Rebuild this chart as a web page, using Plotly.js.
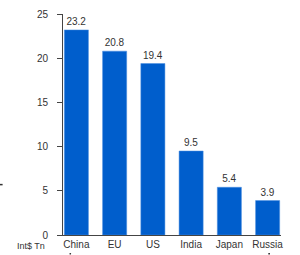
<!DOCTYPE html>
<html><head><meta charset="utf-8">
<script src="https://cdn.plot.ly/plotly-3.0.1.min.js"></script>
<style>html,body{margin:0;padding:0;background:#fff}#c{width:300px;height:255px}</style>
</head><body><div id="c"></div>
<script>
const categories = ["China", "EU", "US", "India", "Japan", "Russia"];
const values = [23.2, 20.8, 19.4, 9.5, 5.4, 3.9];
const valueLabels = ["23.2", "20.8", "19.4", "9.5", "5.4", "3.9"];
const yTicks = [0, 5, 10, 15, 20, 25];
const unitLabel = "Int$ Tn";

const font = "Liberation Sans Narrow, Liberation Sans, Arial, sans-serif";
const trace = {
  type: "bar", x: categories, y: values,
  text: valueLabels, textposition: "outside", cliponaxis: false,
  textfont: {family: font, size: 10, color: "#333"},
  marker: {color: "#005ecc", line: {color: "#4a8fe0", width: 0.5}},
  hoverinfo: "none"
};
const layout = {
  width: 300, height: 255,
  margin: {l: 63, r: 19, t: 14, b: 20},
  paper_bgcolor: "#fff", plot_bgcolor: "#fff",
  bargap: 0.37, showlegend: false,
  font: {family: font, size: 10, color: "#333"},
  xaxis: {range: [-0.35, 5.35], showline: true, linecolor: "#444", linewidth: 1,
          ticks: "", showgrid: false, zeroline: false, tickfont: {size: 10, color: "#333"}, fixedrange: true},
  yaxis: {range: [0, 25], tickvals: yTicks, showline: true, linecolor: "#444", linewidth: 1,
          ticks: "outside", ticklen: 5, tickcolor: "#444", showgrid: false, zeroline: false,
          ticklabelstandoff: 7,
          tickfont: {family: "Liberation Sans, Arial, sans-serif", size: 10, color: "#333"}, fixedrange: true},
  annotations: [{text: unitLabel, xref: "paper", yref: "paper", x: -0.147, y: -0.052,
                 xanchor: "center", yanchor: "middle", showarrow: false, font: {size: 9, color: "#333"}}],
  shapes: [
    {type: "line", xref: "paper", yref: "paper", x0: -0.29, x1: -0.277, y0: 0.228, y1: 0.228, line: {color: "#333", width: 1.5}},
    {type: "rect", xref: "paper", yref: "paper", x0: 0.03, x1: 0.037, y0: -0.082, y1: -0.088, fillcolor: "#222", line: {width: 0}},
    {type: "rect", xref: "paper", yref: "paper", x0: 0.942, x1: 0.949, y0: -0.082, y1: -0.088, fillcolor: "#222", line: {width: 0}}
  ]
};
Plotly.newPlot("c", [trace], layout, {displayModeBar: false, staticPlot: true});
</script></body></html>
